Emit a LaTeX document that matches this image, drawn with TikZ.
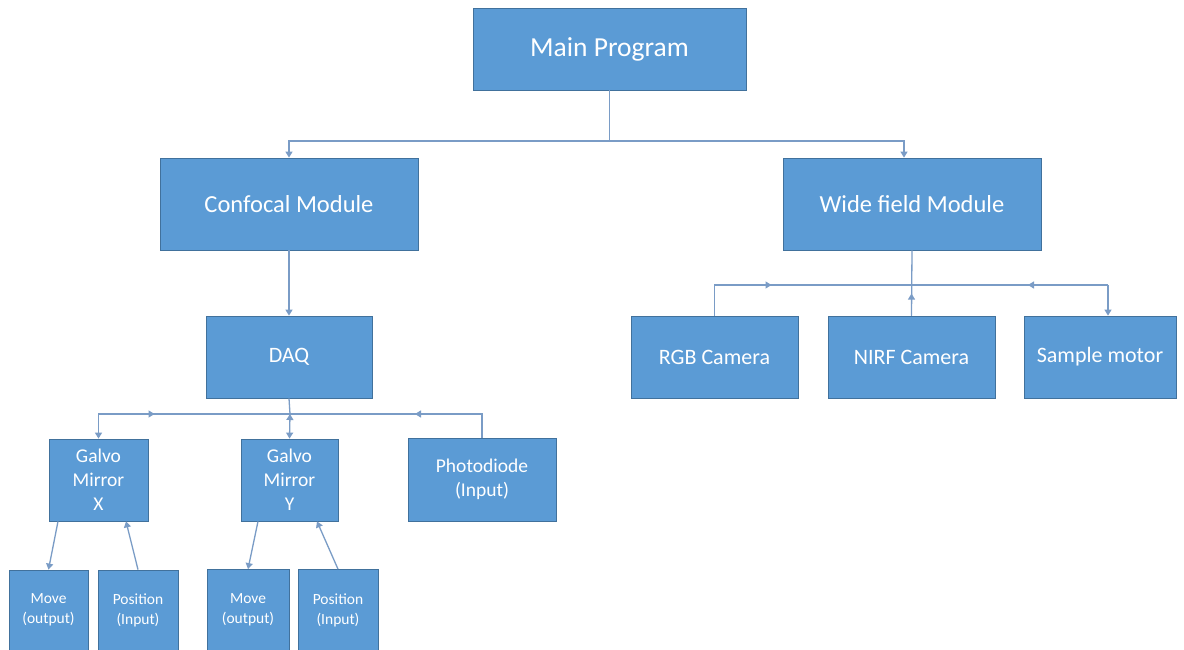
\documentclass[tikz,border=0pt]{standalone}
\usepackage{fontspec}
\setmainfont{Carlito}
\usetikzlibrary{arrows.meta}
\definecolor{boxfill}{HTML}{5B9BD5}
\definecolor{boxline}{HTML}{41719C}
\definecolor{conn}{HTML}{7A9CC6}
\begin{document}
\begin{tikzpicture}[x=1pt,y=-1pt,
  box/.style={rectangle, fill=boxfill, draw=boxline, line width=0.8pt, text=white, align=center, inner sep=2pt},
  ln/.style={draw=conn, line width=1.3pt},
  arr/.style={ln, -{Triangle[width=7pt,length=6pt]}},
  darr/.style={ln, {Triangle[width=7pt,length=6pt]}-{Triangle[width=7pt,length=6pt]}},
  fA/.style={font=\fontsize{27.5}{32}\selectfont},
  fB/.style={font=\fontsize{24.5}{29}\selectfont},
  fC/.style={font=\fontsize{22}{26}\selectfont},
  fD/.style={font=\fontsize{19.5}{24}\selectfont},
  fE/.style={font=\fontsize{15.5}{20}\selectfont}]
\useasboundingbox (0,0) rectangle (1184,650);
\fill[white] (0,0) rectangle (1184,650);
% nodes
\node[box,fA,minimum width=273pt,minimum height=82pt] (main) at (609.5,49) {Main Program};
\node[box,fB,minimum width=258pt,minimum height=92pt] (conf) at (289,204) {Confocal Module};
\node[box,fB,minimum width=258pt,minimum height=92pt] (wide) at (912,204) {Wide field Module};
\node[box,fC,minimum width=166pt,minimum height=82pt] (daq) at (289,357) {DAQ};
\node[box,fC,minimum width=167pt,minimum height=82pt] (rgb) at (714.5,357) {RGB Camera};
\node[box,fC,minimum width=167pt,minimum height=82pt] (nirf) at (911.5,357) {NIRF Camera};
\node[box,fC,minimum width=152pt,minimum height=82pt] (samp) at (1100,357) {Sample motor};
\node[box,fD,minimum width=99pt,minimum height=82pt] (gx) at (98.5,480) {Galvo\\Mirror\\X};
\node[box,fD,minimum width=97pt,minimum height=82pt] (gy) at (289.5,480) {Galvo\\Mirror\\Y};
\node[box,fD,minimum width=148pt,minimum height=83pt] (photo) at (482,479.5) {Photodiode\\(Input)};
\node[box,fE,minimum width=79pt,minimum height=80pt] (mx) at (48.5,610) {Move\\(output)};
\node[box,fE,minimum width=80pt,minimum height=80pt] (px) at (138,610) {Position\\(Input)};
\node[box,fE,minimum width=82pt,minimum height=81pt] (my) at (248,610) {Move\\(output)};
\node[box,fE,minimum width=80pt,minimum height=81pt] (py) at (338,610) {Position\\(Input)};
% bus coordinates
\coordinate (mbus) at (609.5,141);
\coordinate (dbus) at (290,414);
\coordinate (wbus) at (911.5,285);
% main program connectors
\draw[ln] (main.south) -- (mbus);
\draw[arr] (mbus) -| (conf.north);
\draw[arr] (mbus) -| ([xshift=-8pt]wide.north);
% confocal -> DAQ
\draw[arr] (conf.south) -- (daq.north);
% DAQ bus
\draw[ln] (daq.south) -- (dbus);
\draw[arr] (dbus) -| (gx.north);
\draw[arr] (gx.north |- dbus) -- ([xshift=56pt]gx.north |- dbus);
\draw[darr] (dbus) -- (gy.north);
\draw[ln] (photo.north) |- (dbus);
\draw[arr] (photo.north |- dbus) -- ([xshift=-67pt]photo.north |- dbus);
% galvo children
\draw[arr] ([xshift=-40.5pt]gx.south) -- (mx.north);
\draw[arr] (px.north) -- ([xshift=27.5pt]gx.south);
\draw[arr] ([xshift=-31.5pt]gy.south) -- (my.north);
\draw[arr] (py.north) -- ([xshift=27.5pt]gy.south);
% wide field bus
\draw[ln] (wide.south) -- (nirf.north);
\draw[arr] (nirf.north) -- ([yshift=22pt]nirf.north);
\draw[ln] (rgb.north) |- (wbus);
\draw[arr] (rgb.north |- wbus) -- ([xshift=57pt]rgb.north |- wbus);
\draw[ln] (wbus) -- ([xshift=8pt]samp.north |- wbus);
\draw[arr] ([xshift=8pt]samp.north |- wbus) -- ([xshift=-72pt]samp.north |- wbus);
\draw[arr] ([xshift=8pt]samp.north |- wbus) -- ([xshift=8pt]samp.north);
\end{tikzpicture}
\end{document}
